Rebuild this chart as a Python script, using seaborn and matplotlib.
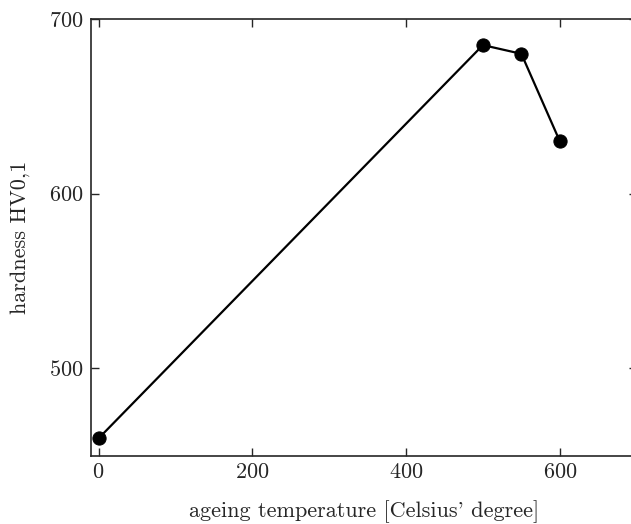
import pandas as pd
import matplotlib
matplotlib.use("Agg")
import matplotlib.pyplot as plt
import seaborn as sns

# Data
temperature = [0, 500, 550, 600]
hardness = [460, 685, 680, 630]

df = pd.DataFrame({'temperature': temperature, 'hardness': hardness})

sns.set_style("ticks")
plt.rcParams['font.family'] = ['cmr10', 'DejaVu Serif']
plt.rcParams['axes.formatter.use_mathtext'] = True
plt.rcParams['font.size'] = 16

fig = plt.figure(figsize=(6.31, 5.24), dpi=100)
ax = fig.add_axes([0.144, 0.130, 0.865, 0.834])

sns.lineplot(x='temperature', y='hardness', data=df, color='black',
             marker='o', markersize=9.5, linewidth=1.6, markeredgecolor='black', ax=ax)

ax.set_xlim(-10, 700)
ax.set_ylim(450, 700)
ax.set_xticks([0, 200, 400, 600])
ax.set_yticks([500, 600, 700])
ax.tick_params(direction='in', length=6, width=1, top=True, right=True, labelsize=16, pad=5)
for s in ax.spines.values():
    s.set_linewidth(1.2)

ax.set_xlabel("ageing temperature [Celsius' degree]", fontsize=16, labelpad=13)
ax.set_ylabel("hardness HV0,1", fontsize=16, labelpad=14)

fig.savefig('out.png', dpi=100)
